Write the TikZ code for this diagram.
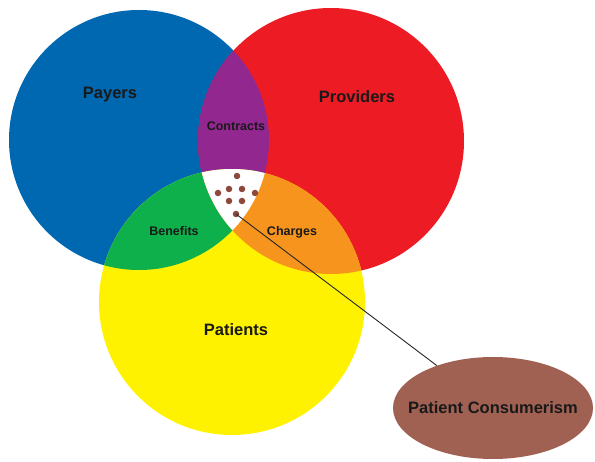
\documentclass[tikz,border=0pt]{standalone}
\usepackage{fontspec}
\setmainfont{Liberation Sans}
\usetikzlibrary{shapes.geometric}

\definecolor{payblue}{RGB}{0,103,177}
\definecolor{provred}{RGB}{237,28,36}
\definecolor{patyellow}{RGB}{255,242,0}
\definecolor{contrpurple}{RGB}{146,39,143}
\definecolor{benefgreen}{RGB}{13,176,75}
\definecolor{chargorange}{RGB}{247,148,29}
\definecolor{consbrown}{RGB}{160,96,82}
\definecolor{dotbrown}{RGB}{140,72,58}

% the three sets
\newcommand{\payerset}{(139,321) circle[radius=130pt]}
\newcommand{\providerset}{(331,320) circle[radius=133pt]}
\newcommand{\patientset}{(232,159) circle[radius=133pt]}

\begin{document}
\begin{tikzpicture}[
    x=1pt, y=1pt,
    biglabel/.style={
      font=\bfseries\fontsize{16.5}{18}\selectfont,
      text=black!90
    },
    smalllabel/.style={
      font=\bfseries\fontsize{12.5}{14}\selectfont,
      text=black!90
    },
    consdot/.style={
      circle,
      fill=dotbrown,
      inner sep=0pt,
      minimum size=6.5pt
    },
]
\useasboundingbox (0,0) rectangle (595,461);

\fill[payblue] \payerset;
\fill[provred] \providerset;
\fill[patyellow] \patientset;

% overlaps of two sets
\begin{scope}
  \clip \payerset;
  \fill[contrpurple] \providerset;
  \fill[benefgreen] \patientset;
\end{scope}
\begin{scope}
  \clip \providerset;
  \fill[chargorange] \patientset;
\end{scope}
% overlap of all three
\begin{scope}
  \clip \payerset;
  \clip \providerset;
  \fill[white] \patientset;
\end{scope}

\node[biglabel] (payers) at (110,366) {Payers};
\node[biglabel] (providers) at (357,364) {Providers};
\node[biglabel] (patients) at (236,131) {Patients};
\node[smalllabel] (contracts) at (236,335) {Contracts};
\node[smalllabel] (benefits) at (174,230) {Benefits};
\node[smalllabel] (charges) at (292,229) {Charges};

\node[consdot] (dota) at (237,285) {};
\node[consdot] (dotb) at (218,268) {};
\node[consdot] (dotc) at (229,272) {};
\node[consdot] (dotd) at (242,272) {};
\node[consdot] (dote) at (255,268) {};
\node[consdot] (dotf) at (229,260) {};
\node[consdot] (dotg) at (242,260) {};
\node[consdot] (doth) at (236,247) {};

\node[ellipse, fill=consbrown, inner sep=0pt, minimum width=200pt, minimum height=102pt] (consumer) at (493,53) {};
\node[biglabel] (consumertext) at (consumer.center) {Patient Consumerism};

\draw[black!85, line width=0.9pt] (doth.center) -- (consumer);

\end{tikzpicture}
\end{document}
